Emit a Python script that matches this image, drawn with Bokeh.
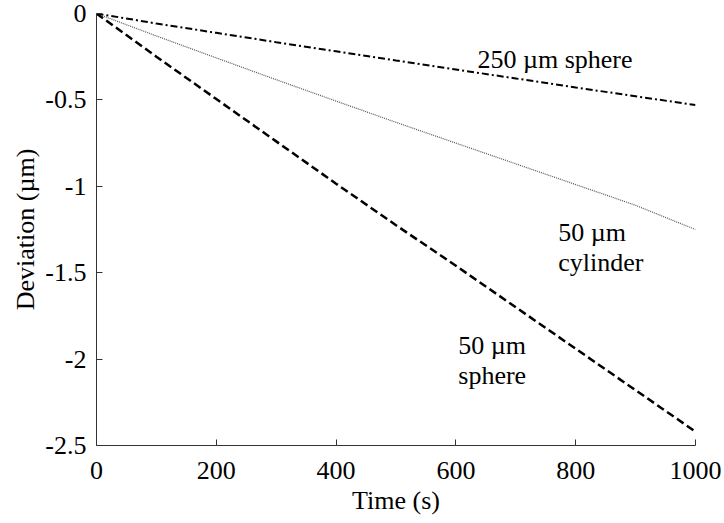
from bokeh.plotting import figure
from bokeh.models import Range1d, FixedTicker
from bokeh.core.properties import value
from bokeh.embed import file_html
from bokeh.resources import INLINE

# Data
time_s = [0, 100, 200, 300, 400, 500, 600, 700, 800, 900, 1000]
sphere250 = [0, -0.058, -0.112, -0.166, -0.219, -0.272, -0.324, -0.376, -0.428, -0.479, -0.53]
cylinder50 = [0, -0.13, -0.257, -0.383, -0.507, -0.63, -0.75, -0.87, -0.99, -1.11, -1.25]
sphere50 = [0, -0.25, -0.495, -0.74, -0.985, -1.225, -1.46, -1.7, -1.94, -2.18, -2.42]

x_ticks = [0, 200, 400, 600, 800, 1000]
y_ticks = [0, -0.5, -1, -1.5, -2, -2.5]
y_tick_labels = ["0", "-0.5", "-1", "-1.5", "-2", "-2.5"]

labels_text = ["250 µm sphere", "50 µm", "cylinder", "50 µm", "sphere"]
labels_x = [636, 771, 771, 604, 604]
labels_y = [-0.266, -1.266, -1.439, -1.921, -2.095]

FONT = "Liberation Serif"

p = figure(width=724, height=523, output_backend="svg", toolbar_location=None,
           x_range=Range1d(0, 1000), y_range=Range1d(-2.5, 0),
           min_border_left=96, min_border_right=29, min_border_top=13, min_border_bottom=78)
p.outline_line_color = None
p.grid.visible = False
p.background_fill_color = "white"
p.border_fill_color = "white"

p.line(time_s, sphere250, line_color="black", line_width=2, line_dash="7 3 2 3")
p.line(time_s, cylinder50, line_color="#555555", line_width=1.2, line_dash="1 1")
p.line(time_s, sphere50, line_color="black", line_width=2.5, line_dash="8 4")

p.text(x=labels_x, y=labels_y, text=labels_text, text_font=value(FONT),
       text_font_size="26px", text_color="black", text_baseline="alphabetic", text_align="left")

for ax in (p.xaxis[0], p.yaxis[0]):
    ax.major_tick_in = 6
    ax.major_tick_out = 0
    ax.minor_tick_in = 0
    ax.minor_tick_out = 0
    ax.axis_line_color = "#333333"
    ax.major_tick_line_color = "#333333"
    ax.major_label_text_font = FONT
    ax.major_label_text_font_size = "26px"
    ax.major_label_text_color = "black"
    ax.axis_label_text_font = FONT
    ax.axis_label_text_font_size = "26px"
    ax.axis_label_text_font_style = "normal"
    ax.axis_label_text_color = "black"

p.xaxis.ticker = FixedTicker(ticks=x_ticks)
p.yaxis.ticker = FixedTicker(ticks=y_ticks)
p.yaxis.major_label_overrides = {t: s for t, s in zip(y_ticks, y_tick_labels)}
p.xaxis.axis_label = "Time (s)"
p.yaxis.axis_label = "Deviation (µm)"
p.xaxis.major_label_standoff = 16
p.yaxis.major_label_standoff = 10
p.xaxis.axis_label_standoff = 4
p.yaxis.axis_label_standoff = 2

open("out.html", "w").write(file_html(p, INLINE))
